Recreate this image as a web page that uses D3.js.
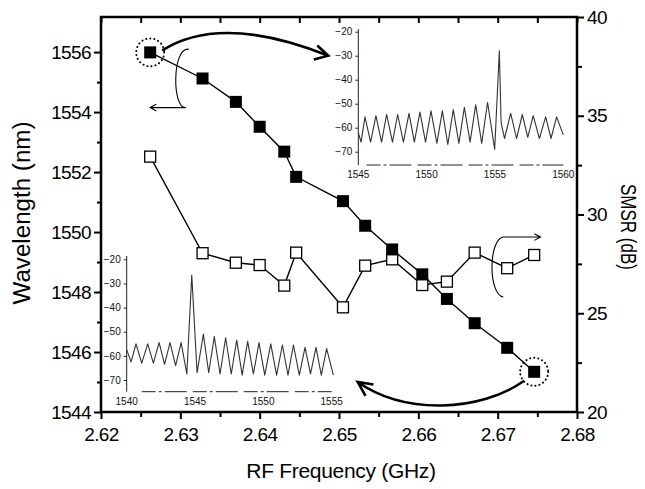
<!DOCTYPE html>
<html>
<head>
<meta charset="utf-8">
<script src="https://cdn.jsdelivr.net/npm/d3@7"></script>
<style>
  body { margin: 0; background: #fff; }
  svg { display: block; font-family: "Liberation Sans", Arial, sans-serif; }
  .frame { fill: none; stroke: #000; stroke-width: 2.5; }
  .axis path.domain { display: none; }
  .axis line { stroke: #000; stroke-width: 2; }
  .axis text { font-size: 19px; fill: #000; letter-spacing: -0.6px; }
  .inset line, .inset path.domain { stroke: #222; stroke-width: 1; }
  .inset text { font-size: 10px; fill: #111; }
  .series { fill: none; stroke: #000; stroke-width: 1.4; }
  .spec { fill: none; stroke: #333; stroke-width: 1.1; stroke-linejoin: round; }
  .note { fill: none; stroke: #000; }
</style>
</head>
<body>
<script>
/*
DATA
*/
const freq = [2.6262, 2.6328, 2.6370, 2.6400, 2.6431, 2.6446, 2.6505,
  2.6533, 2.6567, 2.6605, 2.6636, 2.6671, 2.6712, 2.6746]
const wavelength = [1555.99, 1555.12, 1554.34, 1553.51, 1552.68, 1551.84, 1551.03,
  1550.21, 1549.42, 1548.59, 1547.77, 1546.96, 1546.14, 1545.34]
const smsr = [32.93, 28.04, 27.56, 27.44, 26.40, 28.07, 25.30,
  27.41, 27.73, 26.43, 26.60, 28.07, 27.28, 27.95]

const xTicks = [2.62, 2.63, 2.64, 2.65, 2.66, 2.67, 2.68]
const xMinor = [2.625, 2.635, 2.645, 2.655, 2.665, 2.675]
const leftTicks = [1544, 1546, 1548, 1550, 1552, 1554, 1556]
const leftMinor = [1545, 1547, 1549, 1551, 1553, 1555]
const rightTicks = [20, 25, 30, 35, 40]
const rightMinor = [22.5, 27.5, 32.5, 37.5]

// spectrum insets (vertices)
const topSpecNm = [1545.00, 1545.20, 1545.49, 1545.90, 1546.29, 1546.70, 1547.07, 1547.50,
  1547.88, 1548.30, 1548.71, 1549.10, 1549.51, 1549.92, 1550.32, 1550.75, 1551.15, 1551.55,
  1551.95, 1552.36, 1552.76, 1553.18, 1553.59, 1554.03, 1554.46, 1554.98, 1555.32, 1555.45,
  1555.70, 1556.15, 1556.58, 1557.00, 1557.40, 1557.80, 1558.25, 1558.71, 1559.10, 1559.51, 1560.00]
const topSpecDb = [-62, -66, -55.5, -66, -55, -66, -54.5, -66,
  -54.5, -66, -54, -66, -53.5, -66, -53, -66.5, -53, -67,
  -52.5, -66.5, -51.5, -66, -50.5, -66.5, -49.5, -69, -28, -58,
  -64.5, -54, -64.5, -54.5, -64, -55, -64.5, -55.5, -64.5, -55.5, -63]
const botSpecNm = [1540.00, 1540.32, 1540.68, 1541.10, 1541.54, 1541.95, 1542.37, 1542.77,
  1543.17, 1543.58, 1543.98, 1544.40, 1544.76, 1545.15, 1545.61, 1546.00, 1546.41, 1546.83,
  1547.24, 1547.65, 1548.05, 1548.45, 1548.85, 1549.27, 1549.68, 1550.10, 1550.54, 1550.97,
  1551.39, 1551.80, 1552.20, 1552.63, 1553.05, 1553.45, 1553.85, 1554.24, 1554.63, 1555.12]
const botSpecDb = [-57.5, -62.5, -55, -63, -55, -63, -54.5, -63.5,
  -54.5, -64, -54.5, -67.5, -26.5, -67, -51, -67, -52, -67.5,
  -52.5, -67.5, -53.5, -68, -54, -67.5, -54.5, -68, -55, -68,
  -55.5, -68, -55.5, -68, -56.5, -67.5, -56.5, -68, -57, -68]

const insetTopTicksX = [1545, 1550, 1555, 1560]
const insetBotTicksX = [1540, 1545, 1550, 1555]
const insetTicksY = [-20, -30, -40, -50, -60, -70]

/*
SET UP
*/
const w = 645
const h = 489
const m = ({top: 17, right: 68, bottom: 77, left: 101})

const svg = d3.select("body")
  .append("svg")
  .attr("width", w)
  .attr("height", h)

const x = d3.scaleLinear()
  .domain([2.62, 2.68])
  .range([m.left, w - m.right])

const yLeft = d3.scaleLinear()
  .domain([1544, 1557.17])
  .range([h - m.bottom, m.top])

const yRight = d3.scaleLinear()
  .domain([20, 40])
  .range([h - m.bottom, m.top])

const xInTop = d3.scaleLinear().domain([1545, 1560]).range([358.3, 563.3])
const yInTop = d3.scaleLinear().domain([-70, -20]).range([151.7, 31.7])
const xInBot = d3.scaleLinear().domain([1540, 1555]).range([126.7, 331.7])
const yInBot = d3.scaleLinear().domain([-70, -20]).range([380, 259.3])

/*
INSETS
*/
function makeInset(xs, ys, nm, db, ticksX, yTop, yAxis, dashFrom) {
  const g = svg.append("g").attr("class", "inset")
  const x0 = xs.range()[0]

  const yAx = g.append("g")
    .attr("transform", `translate(${x0},0)`)
    .call(d3.axisLeft(ys).tickValues(insetTicksY).tickSize(3).tickPadding(3))
  yAx.select(".domain").remove()
  g.append("line")
    .attr("x1", x0).attr("x2", x0)
    .attr("y1", yTop).attr("y2", yAxis)

  // faint, broken x axis line (scan)
  g.append("line")
    .attr("x1", xs(dashFrom)).attr("x2", xs.range()[1])
    .attr("y1", yAxis).attr("y2", yAxis)
    .attr("stroke", "#9a9a9a")
    .attr("stroke-dasharray", "14,3,3,3,22,6")

  g.selectAll(".xlab")
    .data(ticksX)
    .join("text")
    .attr("class", "xlab")
    .attr("x", (d) => xs(d))
    .attr("y", yAxis + 13)
    .attr("text-anchor", "middle")
    .text((d) => d)

  const line = d3.line()
    .x((d, i) => xs(nm[i]))
    .y((d) => ys(d))
  g.append("path")
    .datum(db)
    .attr("class", "spec")
    .attr("d", line)
}

makeInset(xInTop, yInTop, topSpecNm, topSpecDb, insetTopTicksX, 29, 165, 1545.6)
makeInset(xInBot, yInBot, botSpecNm, botSpecDb, insetBotTicksX, 256, 391.7, 1541.1)

/*
AXES
*/
const gx = svg.append("g")
  .attr("class", "axis")
  .attr("transform", `translate(0,${h - m.bottom})`)
gx.call(d3.axisBottom(x).tickValues(xTicks).tickFormat(d3.format(".2f")).tickSize(7).tickPadding(9))
gx.append("g").call(d3.axisBottom(x).tickValues(xMinor).tickFormat("").tickSize(5))

const gTop = svg.append("g")
  .attr("class", "axis")
  .attr("transform", `translate(0,${m.top})`)
gTop.call(d3.axisBottom(x).tickValues(xTicks.concat(xMinor)).tickFormat("").tickSize(6))

const gl = svg.append("g")
  .attr("class", "axis")
  .attr("transform", `translate(${m.left},0)`)
gl.call(d3.axisLeft(yLeft).tickValues(leftTicks).tickFormat(d3.format("d")).tickSize(7).tickPadding(3))
gl.append("g").call(d3.axisLeft(yLeft).tickValues(leftMinor).tickFormat("").tickSize(4))

const gr = svg.append("g")
  .attr("class", "axis")
  .attr("transform", `translate(${w - m.right},0)`)
gr.call(d3.axisRight(yRight).tickValues(rightTicks).tickSize(7).tickPadding(3))
gr.append("g").call(d3.axisRight(yRight).tickValues(rightMinor).tickFormat("").tickSize(5))

svg.append("rect")
  .attr("class", "frame")
  .attr("x", m.left)
  .attr("y", m.top)
  .attr("width", w - m.left - m.right)
  .attr("height", h - m.top - m.bottom)

// axis titles
svg.append("text")
  .attr("x", (m.left + w - m.right) / 2 + 2)
  .attr("y", 478)
  .attr("text-anchor", "middle")
  .attr("font-size", 21)
  .attr("letter-spacing", "-0.3px")
  .text("RF Frequency (GHz)")

svg.append("text")
  .attr("transform", "translate(30,213) rotate(-90)")
  .attr("text-anchor", "middle")
  .attr("font-size", 23)
  .attr("textLength", 183)
  .attr("lengthAdjust", "spacingAndGlyphs")
  .text("Wavelength (nm)")

svg.append("text")
  .attr("transform", "translate(621,227) rotate(90)")
  .attr("text-anchor", "middle")
  .attr("font-size", 22)
  .attr("textLength", 86)
  .attr("lengthAdjust", "spacingAndGlyphs")
  .text("SMSR (dB)")

/*
SERIES
*/
const smsrLine = d3.line()
  .x((d, i) => x(freq[i]))
  .y((d) => yRight(d))

const wlLine = d3.line()
  .x((d, i) => x(freq[i]))
  .y((d) => yLeft(d))

svg.append("path")
  .datum(smsr)
  .attr("class", "series")
  .attr("d", smsrLine)

svg.append("path")
  .datum(wavelength)
  .attr("class", "series")
  .attr("d", wlLine)

svg.selectAll(".open")
  .data(smsr)
  .join("rect")
  .attr("class", "open")
  .attr("x", (d, i) => x(freq[i]) - 5.5)
  .attr("y", (d) => yRight(d) - 5.5)
  .attr("width", 11)
  .attr("height", 11)
  .attr("fill", "#fff")
  .attr("stroke", "#000")
  .attr("stroke-width", 1.3)

svg.selectAll(".filled")
  .data(wavelength)
  .join("rect")
  .attr("class", "filled")
  .attr("x", (d, i) => x(freq[i]) - 6)
  .attr("y", (d) => yLeft(d) - 6)
  .attr("width", 12)
  .attr("height", 12)
  .attr("fill", "#000")

/*
ANNOTATIONS
*/
function head(tip, from, len, ang) {
  const a = Math.atan2(from[1] - tip[1], from[0] - tip[0])
  return `M${tip[0] + len * Math.cos(a + ang)},${tip[1] + len * Math.sin(a + ang)}` +
    `L${tip[0]},${tip[1]}` +
    `L${tip[0] + len * Math.cos(a - ang)},${tip[1] + len * Math.sin(a - ang)}`
}

const first = [x(freq[0]), yLeft(wavelength[0])]
const last = [x(freq[13]), yLeft(wavelength[13])]

// dotted circles
svg.selectAll(".ring")
  .data([first, last])
  .join("circle")
  .attr("class", "note")
  .attr("cx", (d) => d[0])
  .attr("cy", (d) => d[1])
  .attr("r", 14)
  .attr("stroke-width", 2)
  .attr("stroke-dasharray", "0.1,4")
  .attr("stroke-linecap", "round")

// arrow to top inset
const a0 = [first[0] + 12, first[1] - 2]
const a1 = [xInTop(1545) - 30, yInTop(-30)]
const ac = [221, 13]
svg.append("path")
  .attr("class", "note")
  .attr("stroke-width", 2.6)
  .attr("d", `M${a0}Q${ac} ${a1}` + head(a1, [a1[0] - 20, a1[1] - 5], 15, 0.5))

// arrow to bottom inset
const b0 = [last[0] - 10, last[1] + 9]
const b1 = [xInBot(1555) + 26, yInBot(-70) + 2]
const bc1 = [480, 412]
const bc2 = [405, 415]
svg.append("path")
  .attr("class", "note")
  .attr("stroke-width", 2.6)
  .attr("d", `M${b0}C${bc1} ${bc2} ${b1}` + head(b1, bc2, 16, 0.45))

// bracket pointing to left axis
const lt = [x(2.6307), yLeft(1556.13)]
const lb = [x(2.6307), yLeft(1554.15)]
const lend = [x(2.6262), lb[1]]
svg.append("path")
  .attr("class", "note")
  .attr("stroke-width", 1.1)
  .attr("d", `M${lt[0] + 3},${lt[1] + 1}C${lt[0] - 14},${lt[1] - 2} ${lb[0] - 14},${lb[1] + 2} ${lb[0]},${lb[1]}L${lend}` +
    head(lend, lb, 7, 0.5))

// bracket pointing to right axis
const rt = [x(2.6707), yRight(28.86)]
const rb = [x(2.6707), yRight(25.82)]
const rend = [x(2.6754), rt[1]]
svg.append("path")
  .attr("class", "note")
  .attr("stroke-width", 1.1)
  .attr("d", `M${rend}L${rt}C${rt[0] - 15},${rt[1] + 3} ${rb[0] - 15},${rb[1] - 3} ${rb[0]},${rb[1]}` +
    head(rend, rt, 7, 0.5))
</script>
</body>
</html>
